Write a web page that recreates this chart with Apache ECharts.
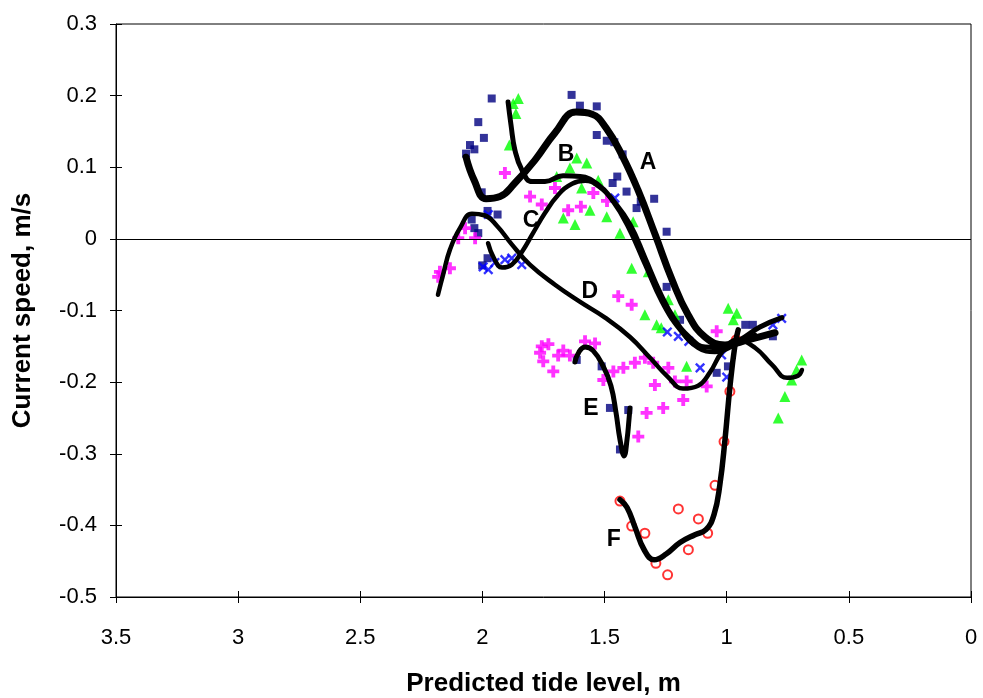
<!DOCTYPE html>
<html>
<head>
<meta charset="utf-8">
<script src="https://cdn.jsdelivr.net/npm/echarts@6/dist/echarts.min.js"></script>
<style>html,body{margin:0;padding:0;background:#fff}#c{width:983px;height:698px}</style>
</head>
<body>
<div id="c"></div>
<script>
// ---- data ----
const xTicks = ['3.5','3','2.5','2','1.5','1','0.5','0'];
const yTicks = ['0.3','0.2','0.1','0','-0.1','-0.2','-0.3','-0.4','-0.5'];

const navySquares = [
  [1.962,0.196],[2.017,0.163],[1.994,0.141],[2.051,0.131],[2.033,0.125],[2.067,0.119],
  [2.003,0.065],[1.979,0.039],[1.938,0.034],[2.044,0.027],[2.033,0.015],[2.017,0.008],
  [1.979,-0.027],[2.001,-0.037],
  [1.635,0.201],[1.601,0.186],[1.532,0.185],[1.532,0.145],[1.491,0.137],[1.460,0.135],
  [1.426,0.118],[1.448,0.087],[1.467,0.078],[1.410,0.066],[1.297,0.056],[1.352,0.052],
  [1.369,0.043],[1.246,0.010],
  [1.246,-0.067],[1.191,-0.113],[0.924,-0.120],[0.893,-0.120],[0.811,-0.136],
  [0.995,-0.178],[1.041,-0.187],
  [1.614,-0.169],[1.512,-0.178],[1.478,-0.236],[1.403,-0.239],[1.437,-0.294]
];
const greenTriangles = [
  [1.853,0.196],[1.874,0.189],[1.863,0.175],[1.890,0.131],[1.614,0.113],[1.573,0.106],
  [1.642,0.099],[1.696,0.087],[1.594,0.071],[1.526,0.082],[1.560,0.040],[1.669,0.029],
  [1.621,0.020],[1.491,0.031],[1.383,0.024],[1.437,0.008],[1.389,-0.041],[1.321,-0.046],
  [1.335,-0.106],[1.287,-0.120],[1.268,-0.124],[1.239,-0.085],[1.212,-0.106],[1.164,-0.178],
  [0.994,-0.097],[0.959,-0.104],[0.973,-0.113],[0.693,-0.169],[0.714,-0.183],[0.734,-0.197],
  [0.762,-0.220],[0.789,-0.250]
];
const magentaCrosses = [
  [1.908,0.092],[1.703,0.071],[1.805,0.059],[1.757,0.048],[1.649,0.040],[1.597,0.045],
  [1.546,0.064],[1.490,0.053],[2.071,0.015],[2.099,0.001],[2.030,0.001],[2.133,-0.041],
  [2.174,-0.046],[2.181,-0.053],[1.444,-0.080],[1.389,-0.092],
  [1.757,-0.150],[1.730,-0.147],[1.764,-0.159],[1.751,-0.171],[1.710,-0.185],[1.669,-0.156],
  [1.690,-0.163],[1.642,-0.163],[1.580,-0.143],[1.539,-0.146],[1.505,-0.197],[1.464,-0.185],
  [1.423,-0.180],[1.376,-0.173],[1.335,-0.166],[1.301,-0.173],[1.239,-0.180],[1.294,-0.204],
  [1.212,-0.199],[1.164,-0.199],[1.178,-0.225],[1.260,-0.236],[1.328,-0.243],[1.362,-0.276],
  [1.082,-0.206],[1.041,-0.129]
];
const blueCrosses = [
  [1.976,0.034],[1.997,-0.039],[1.976,-0.043],[1.949,-0.033],[1.908,-0.029],[1.880,-0.027],
  [1.839,-0.036],[1.458,0.057],[1.243,-0.130],[1.198,-0.136],[1.155,-0.143],[1.109,-0.180],
  [1.021,-0.162],[1.000,-0.193],[0.775,-0.111],[0.811,-0.120]
];
const redCircles = [
  [1.437,-0.366],[1.389,-0.401],[1.335,-0.411],[1.198,-0.377],[1.116,-0.391],[1.078,-0.411],
  [1.157,-0.434],[1.290,-0.453],[1.242,-0.469],[1.048,-0.344],[1.011,-0.283],[0.987,-0.213],
  [0.961,-0.141]
];

const curveA = [
  [2.067,0.114],[2.034,0.082],[1.985,0.056],[1.928,0.059],[1.867,0.078],[1.785,0.110],
  [1.703,0.148],[1.617,0.177],[1.551,0.174],[1.494,0.155],[1.429,0.117],[1.363,0.068],
  [1.293,0.006],[1.224,-0.057],[1.158,-0.106],[1.089,-0.137],[1.007,-0.148],[0.913,-0.141],
  [0.802,-0.131]
];
const curveB = [
  [1.895,0.191],[1.883,0.159],[1.867,0.124],[1.838,0.096],[1.797,0.080],[1.744,0.080],
  [1.670,0.088],[1.600,0.087],[1.531,0.077],[1.466,0.054],[1.396,0.020],[1.334,-0.027],
  [1.273,-0.075],[1.212,-0.113],[1.151,-0.138],[1.089,-0.151],[1.020,-0.152],[0.946,-0.141],
  [0.864,-0.123],[0.774,-0.110]
];
const curveC = [
  [1.977,-0.006],[1.953,-0.027],[1.920,-0.040],[1.880,-0.036],[1.838,-0.018],[1.793,0.008],
  [1.744,0.036],[1.691,0.061],[1.633,0.077],[1.580,0.081],[1.527,0.074],[1.469,0.054],
  [1.404,0.017],[1.334,-0.036],[1.265,-0.088],[1.191,-0.127],[1.117,-0.152],[1.048,-0.158],
  [0.966,-0.148],[0.884,-0.134]
];
const curveD = [
  [2.182,-0.078],[2.161,-0.050],[2.133,-0.015],[2.092,0.015],[2.043,0.035],[1.993,0.033],
  [1.940,0.018],[1.879,-0.008],[1.806,-0.036],[1.703,-0.064],[1.600,-0.088],[1.498,-0.110],
  [1.396,-0.137],[1.314,-0.166],[1.240,-0.193],[1.179,-0.209],[1.117,-0.205],[1.068,-0.186],
  [1.019,-0.158],[0.958,-0.141],[0.884,-0.152],[0.814,-0.176],[0.753,-0.194],[0.708,-0.191],
  [0.692,-0.183]
];
const curveE = [
  [1.621,-0.172],[1.605,-0.158],[1.580,-0.151],[1.547,-0.156],[1.507,-0.177],[1.474,-0.205],
  [1.453,-0.243],[1.437,-0.280],[1.420,-0.303],[1.408,-0.280],[1.400,-0.252],[1.396,-0.236]
];
const curveF = [
  [1.437,-0.364],[1.408,-0.375],[1.375,-0.403],[1.338,-0.434],[1.297,-0.448],[1.248,-0.440],
  [1.191,-0.424],[1.130,-0.413],[1.085,-0.406],[1.052,-0.385],[1.028,-0.343],[1.007,-0.280],
  [0.986,-0.204],[0.966,-0.148],[0.953,-0.127]
];
const curveNames = ['A','B','C','D','E','F'];
const curveLabelPos = [[1.322,0.107],[1.658,0.117],[1.801,0.025],[1.560,-0.073],[1.556,-0.237],[1.462,-0.420]];

// ---- chart ----
const FONT = "'Liberation Sans',Arial,sans-serif";
const plusPath = 'path://M3.4,0H6.6V3.4H10V6.6H6.6V10H3.4V6.6H0V3.4H3.4Z';
const xPath = 'path://M4,0H6V4H10V6H6V10H4V6H0V4H4Z';

const chart = echarts.init(document.getElementById('c'), null, {renderer:'canvas'});
const baseX = {type:'value', min:0, max:3.5, interval:0.5, inverse:true, gridIndex:0};
const baseY = {type:'value', min:-0.5, max:0.3, interval:0.1, gridIndex:0};

function curve(data, w){
  return {type:'line', data:data, smooth:0.45, showSymbol:false, symbol:'none', z:10,
    lineStyle:{color:'#000', width:w, cap:'round', join:'round'}, silent:true};
}

chart.setOption({
  animation:false,
  backgroundColor:'#fff',
  grid:{left:116, top:24, width:855, height:573, show:true, borderColor:'#000', borderWidth:1,
    backgroundColor:'transparent', containLabel:false, outerBoundsMode:'none'},
  xAxis:[
    Object.assign({}, baseX, {
      name:'Predicted tide level, m', nameLocation:'middle', nameGap:74,
      nameTextStyle:{fontFamily:FONT, fontWeight:'bold', fontSize:26, color:'#000'},
      axisLine:{show:true, onZero:false, lineStyle:{color:'#000', width:1}},
      axisTick:{show:true, length:6, inside:false, lineStyle:{color:'#000'}},
      axisLabel:{fontFamily:FONT, fontSize:22, color:'#000', margin:30},
      splitLine:{show:false}
    }),
    Object.assign({}, baseX, {
      axisLine:{show:false, onZero:false}, position:'bottom',
      axisTick:{show:true, length:6, inside:true, lineStyle:{color:'#000'}},
      axisLabel:{show:false}, splitLine:{show:false}
    })
  ],
  yAxis:[
    Object.assign({}, baseY, {
      name:'Current speed, m/s', nameLocation:'middle', nameGap:80, nameRotate:90,
      nameTextStyle:{fontFamily:FONT, fontWeight:'bold', fontSize:26, color:'#000'},
      axisLine:{show:true, onZero:false, lineStyle:{color:'#000', width:1}},
      axisTick:{show:true, length:6, inside:false, lineStyle:{color:'#000'}},
      axisLabel:{fontFamily:FONT, fontSize:22, color:'#000', margin:19},
      splitLine:{show:false}
    }),
    Object.assign({}, baseY, {
      axisLine:{show:false, onZero:false}, position:'left',
      axisTick:{show:true, length:6, inside:true, lineStyle:{color:'#000'}},
      axisLabel:{show:false}, splitLine:{show:false}
    })
  ],
  series:[
    {type:'scatter', data:navySquares, symbol:'rect', symbolSize:8, itemStyle:{color:'#000080'}, z:3,
      markLine:{silent:true, symbol:'none', label:{show:false}, animation:false,
        lineStyle:{color:'#000', width:1, type:'solid'}, data:[{yAxis:0}]}},
    {type:'scatter', data:greenTriangles, symbol:'triangle', symbolSize:11, itemStyle:{color:'#00FF00'}, z:3},
    {type:'scatter', data:magentaCrosses, symbol:plusPath, symbolSize:12, itemStyle:{color:'#FF00FF'}, z:3},
    {type:'scatter', data:blueCrosses, symbol:xPath, symbolSize:12, symbolRotate:45, itemStyle:{color:'#0000FF'}, z:3},
    {type:'scatter', data:redCircles, symbol:'emptyCircle', symbolSize:9, itemStyle:{color:'#FF0000', borderColor:'#FF0000', borderWidth:2.2}, z:3},
    curve(curveA, 7), curve(curveB, 5), curve(curveC, 4.5), curve(curveD, 4.5), curve(curveE, 5), curve(curveF, 5.5),
    {type:'scatter', symbolSize:0, z:12, silent:true,
      data:curveLabelPos.map((p,i)=>({value:p, name:curveNames[i]})),
      label:{show:true, position:'inside', formatter:'{b}', fontFamily:FONT, fontWeight:'bold', fontSize:23,
        color:'#000', textBorderWidth:0, textBorderColor:'transparent', opacity:1}}
  ]
});
</script>
</body>
</html>
